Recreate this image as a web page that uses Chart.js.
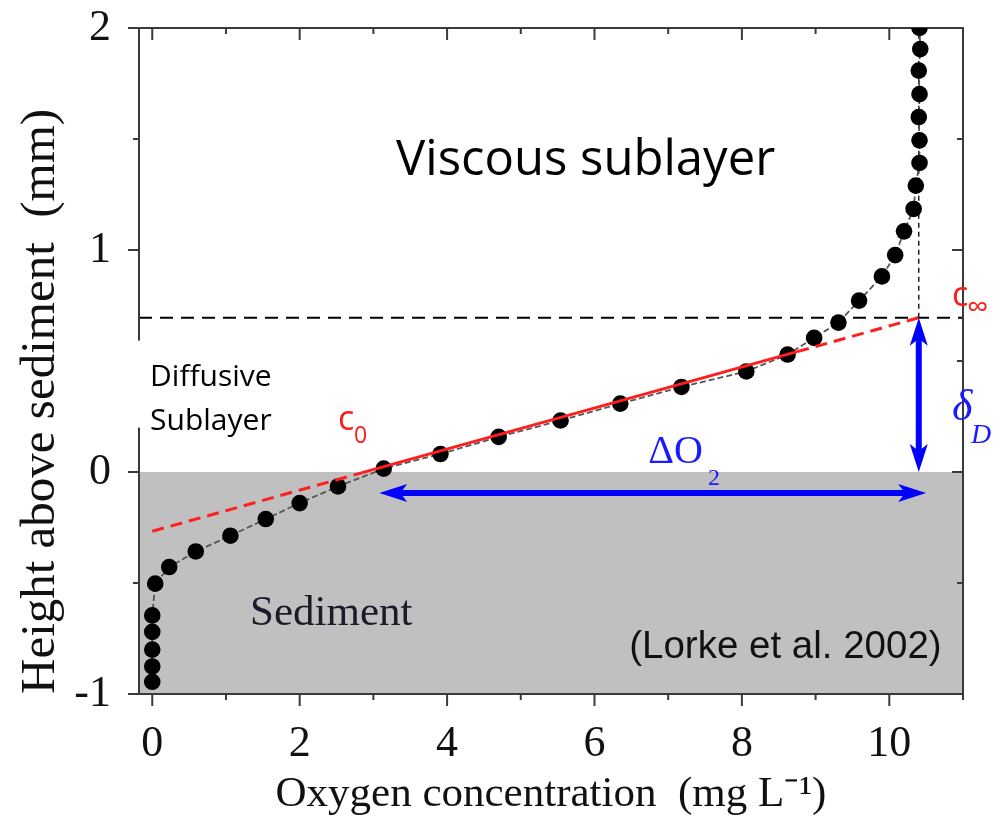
<!DOCTYPE html>
<html>
<head>
<meta charset="utf-8">
<script src="https://cdn.jsdelivr.net/npm/chart.js@4.4.1/dist/chart.umd.min.js"></script>
<style>
  html, body { margin: 0; padding: 0; background: #ffffff; }
  #wrap { width: 1005px; height: 835px; }
</style>
</head>
<body>
<div id="wrap"><canvas id="c" width="1005" height="835"></canvas></div>
<script>
// ---------------- data ----------------
const oxygenConc = [0, 0, 0, 0, 0, 0.04, 0.23, 0.59, 1.06, 1.54, 2.0, 2.52, 3.14, 3.91, 4.70, 5.54, 6.35, 7.18, 8.06, 8.62, 8.98, 9.31, 9.59, 9.90, 10.08, 10.20, 10.33, 10.36, 10.41, 10.41, 10.40, 10.41, 10.40, 10.42, 10.41];
const heightAbove = [-0.945, -0.876, -0.80, -0.72, -0.646, -0.503, -0.428, -0.358, -0.287, -0.212, -0.14, -0.065, 0.015, 0.081, 0.158, 0.232, 0.308, 0.383, 0.453, 0.529, 0.604, 0.673, 0.772, 0.881, 0.977, 1.084, 1.185, 1.29, 1.392, 1.494, 1.599, 1.702, 1.808, 1.905, 2.0];

// linear fit through the diffusive sublayer (dashed - solid - dashed)
const fitConc = [0, 2.85, 8.75, 10.4];
const fitHeight = [-0.267, -0.003, 0.542, 0.695];

const xTickValues = [0, 2, 4, 6, 8, 10];
const xTickLabels = ['0', '2', '4', '6', '8', '10'];
const yTickValues = [-1, 0, 1, 2];
const yTickLabels = ['-1', '0', '1', '2'];

const sedimentRange = [-1, 0];        // height range of sediment (mm)
const dblHeight = 0.695;              // top of diffusive boundary layer (mm)
const cInf = 10.4;                    // bulk oxygen concentration
const deltaO2Arrow = [3.08, 10.5, -0.095];  // x from, x to, at height
const deltaDArrow = [10.4, 0.695, 0.0];     // at x, y from, y to

const xLabel = 'Oxygen concentration  (mg L\u207B\u00B9)';
const yLabel = 'Height above sediment  (mm)';

// ---------------- drawing helpers ----------------
const SERIF = '"Liberation Serif", "Times New Roman", serif';
const SANS = '"Open Sans", "Noto Sans", sans-serif';
const ARIAL = '"Liberation Sans", Arial, sans-serif';

function arrow(ctx, x1, y1, x2, y2, headLen, headW, lw, color) {
  const a = Math.atan2(y2 - y1, x2 - x1);
  const c = Math.cos(a), s = Math.sin(a);
  ctx.save();
  ctx.strokeStyle = color; ctx.fillStyle = color; ctx.lineWidth = lw; ctx.setLineDash([]);
  ctx.beginPath();
  ctx.moveTo(x1 + c * headLen * 0.7, y1 + s * headLen * 0.7);
  ctx.lineTo(x2 - c * headLen * 0.7, y2 - s * headLen * 0.7);
  ctx.stroke();
  const head = (tx, ty, dc, ds) => {
    ctx.beginPath();
    ctx.moveTo(tx, ty);
    ctx.lineTo(tx - dc * headLen - ds * headW / 2, ty - ds * headLen + dc * headW / 2);
    ctx.lineTo(tx - dc * headLen * 0.75, ty - ds * headLen * 0.75);
    ctx.lineTo(tx - dc * headLen + ds * headW / 2, ty - ds * headLen - dc * headW / 2);
    ctx.closePath();
    ctx.fill();
  };
  head(x2, y2, c, s);
  head(x1, y1, -c, -s);
  ctx.restore();
}

const backgroundPlugin = {
  id: 'backgroundPlugin',
  beforeDatasetsDraw(chart) {
    const { ctx, chartArea: { left, right, top, bottom }, scales: { x, y } } = chart;
    ctx.save();
    // sediment
    const yT = y.getPixelForValue(sedimentRange[1]);
    const yB = y.getPixelForValue(sedimentRange[0]);
    ctx.fillStyle = 'rgb(192,192,192)';
    ctx.fillRect(left, yT, right - left, yB - yT);
    // DBL top dashed line
    const yd = y.getPixelForValue(dblHeight);
    ctx.strokeStyle = '#000'; ctx.lineWidth = 2; ctx.setLineDash([13, 8]);
    ctx.beginPath(); ctx.moveTo(left, yd); ctx.lineTo(right, yd); ctx.stroke();
    // vertical thin dashed at c_inf
    const xc = x.getPixelForValue(cInf);
    ctx.lineWidth = 1.3; ctx.setLineDash([5, 4]);
    ctx.beginPath(); ctx.moveTo(xc, yd); ctx.lineTo(xc, top); ctx.stroke();
    // frame
    ctx.setLineDash([]);
    ctx.strokeStyle = '#3a3a3a'; ctx.lineWidth = 2;
    ctx.strokeRect(left, top, right - left, bottom - top);
    // ticks
    ctx.lineWidth = 2;
    for (let v = 0; v <= 11; v++) {
      const p = x.getPixelForValue(v);
      const len = v % 2 === 0 ? 12 : 6;
      ctx.beginPath();
      ctx.moveTo(p, bottom); ctx.lineTo(p, bottom + len);
      ctx.moveTo(p, top); ctx.lineTo(p, top + len);
      ctx.stroke();
    }
    for (let v = -1; v <= 2.001; v += 0.5) {
      const p = y.getPixelForValue(v);
      const len = Math.abs(v - Math.round(v)) < 1e-6 ? 11 : 6;
      ctx.beginPath();
      ctx.moveTo(left, p); ctx.lineTo(left - len, p);
      ctx.moveTo(right, p); ctx.lineTo(right - len, p);
      ctx.stroke();
    }
    ctx.restore();
  }
};

const annotationPlugin = {
  id: 'annotationPlugin',
  afterDatasetsDraw(chart) {
    const { ctx, scales: { x, y } } = chart;
    const X = v => x.getPixelForValue(v), Y = v => y.getPixelForValue(v);
    ctx.save();
    // arrows
    arrow(ctx, X(deltaO2Arrow[0]), Y(deltaO2Arrow[2]), X(deltaO2Arrow[1]), Y(deltaO2Arrow[2]), 28, 18, 6, '#0000ff');
    arrow(ctx, X(deltaDArrow[0]), Y(deltaDArrow[1]), X(deltaDArrow[0]), Y(deltaDArrow[2]), 28, 18, 6, '#0000ff');

    // white box behind "Diffusive Sublayer"
    ctx.fillStyle = '#ffffff';
    ctx.fillRect(X(-0.33), Y(0.592), X(1.85) - X(-0.33), Y(0.2) - Y(0.592));

    ctx.textBaseline = 'alphabetic';
    // Viscous sublayer
    ctx.fillStyle = '#000';
    ctx.font = '49px ' + SANS; ctx.textAlign = 'center';
    ctx.fillText('Viscous sublayer', X(5.88), Y(1.339));
    // Diffusive Sublayer
    ctx.textAlign = 'left';
    ctx.font = '30px ' + SANS;
    ctx.fillText('Diffusive', X(-0.03), Y(0.386));
    ctx.fillText('Sublayer', X(-0.03), Y(0.191));
    // c0
    ctx.fillStyle = '#ff1a1a';
    ctx.font = '34px ' + SANS;
    ctx.fillText('c', X(2.52), Y(0.19));
    ctx.font = '23px ' + SANS;
    ctx.fillText('0', X(2.52) + 16, Y(0.132));
    // c_inf
    ctx.font = '34px ' + SANS;
    ctx.fillText('c', X(10.85), Y(0.746));
    ctx.font = '30px ' + SANS;
    ctx.fillText('\u221E', X(10.85) + 15, Y(0.70));
    // delta_D
    ctx.fillStyle = '#1a1aff';
    ctx.font = 'italic 44px ' + SERIF;
    ctx.fillText('\u03B4', X(10.85), Y(0.236));
    ctx.font = 'italic 28px ' + SERIF;
    ctx.fillText('D', X(10.85) + 19, Y(0.132));
    // Delta O2
    ctx.font = '40px ' + SERIF;
    ctx.fillText('\u0394O', X(6.73), Y(0.042));
    const w = ctx.measureText('\u0394O').width;
    ctx.font = '24px ' + SERIF;
    ctx.fillText('2', X(6.73) + w + 5, Y(-0.057));
    // Sediment
    ctx.fillStyle = '#1a1a2a';
    ctx.font = '43px ' + SERIF;
    ctx.fillText('Sediment', X(1.326), Y(-0.688));
    // reference
    ctx.fillStyle = '#111';
    ctx.font = '38.5px ' + ARIAL; ctx.textAlign = 'right';
    ctx.fillText('(Lorke et al. 2002)', X(10.71), Y(-0.838));
    ctx.restore();
  }
};

// ---------------- chart ----------------
const dotData = oxygenConc.map((v, i) => ({ x: v, y: heightAbove[i] }));
const fitData = fitConc.map((v, i) => ({ x: v, y: fitHeight[i] }));

new Chart(document.getElementById('c'), {
  type: 'scatter',
  data: {
    datasets: [
      {
        label: 'fit',
        data: fitData,
        showLine: true,
        borderColor: '#ff1e1e',
        borderWidth: 3,
        pointRadius: 0,
        order: 1,
        segment: {
          borderDash: ctx => (ctx.p0DataIndex === 0 || ctx.p0DataIndex === 2) ? [12, 7] : undefined
        }
      },
      {
        label: 'O2 profile',
        data: dotData,
        showLine: true,
        borderColor: '#555555',
        borderWidth: 1.8,
        borderDash: [6, 3],
        pointRadius: 8.3,
        pointBackgroundColor: '#000',
        pointBorderColor: '#000',
        pointBorderWidth: 0,
        clip: 0,
        order: 2
      }
    ]
  },
  options: {
    responsive: false,
    animation: false,
    devicePixelRatio: 1,
    layout: { padding: { top: 28, right: 42, left: 0, bottom: 0 } },
    plugins: { legend: { display: false }, tooltip: { enabled: false } },
    scales: {
      x: {
        type: 'linear', position: 'bottom', min: -0.18, max: 11,
        grid: { display: false }, border: { display: false },
        afterBuildTicks: s => { s.ticks = xTickValues.map(v => ({ value: v })); },
        afterFit: s => { s.height = 141; s.paddingLeft = 0; s.paddingRight = 0; },
        ticks: {
          autoSkip: false, maxRotation: 0, padding: 16, color: '#111',
          font: { family: SERIF, size: 44 },
          callback: (v) => xTickLabels[xTickValues.indexOf(v)] ?? ''
        },
        title: {
          display: true, text: xLabel, color: '#111',
          font: { family: SERIF, size: 43 },
          padding: { top: 0, bottom: 14 }
        }
      },
      y: {
        type: 'linear', position: 'left', min: -1, max: 2,
        grid: { display: false }, border: { display: false },
        afterBuildTicks: s => { s.ticks = yTickValues.map(v => ({ value: v })); },
        afterFit: s => { s.width = 139; s.paddingTop = 0; s.paddingBottom = 0; },
        ticks: {
          autoSkip: false, padding: 20, color: '#111',
          font: { family: SERIF, size: 44 },
          callback: (v) => yTickLabels[yTickValues.indexOf(v)] ?? ''
        },
        title: {
          display: true, text: yLabel, color: '#111', align: 'start',
          font: { family: SERIF, size: 49 },
          padding: { top: 12, bottom: 0 }
        }
      }
    }
  },
  plugins: [backgroundPlugin, annotationPlugin]
});
</script>
</body>
</html>
